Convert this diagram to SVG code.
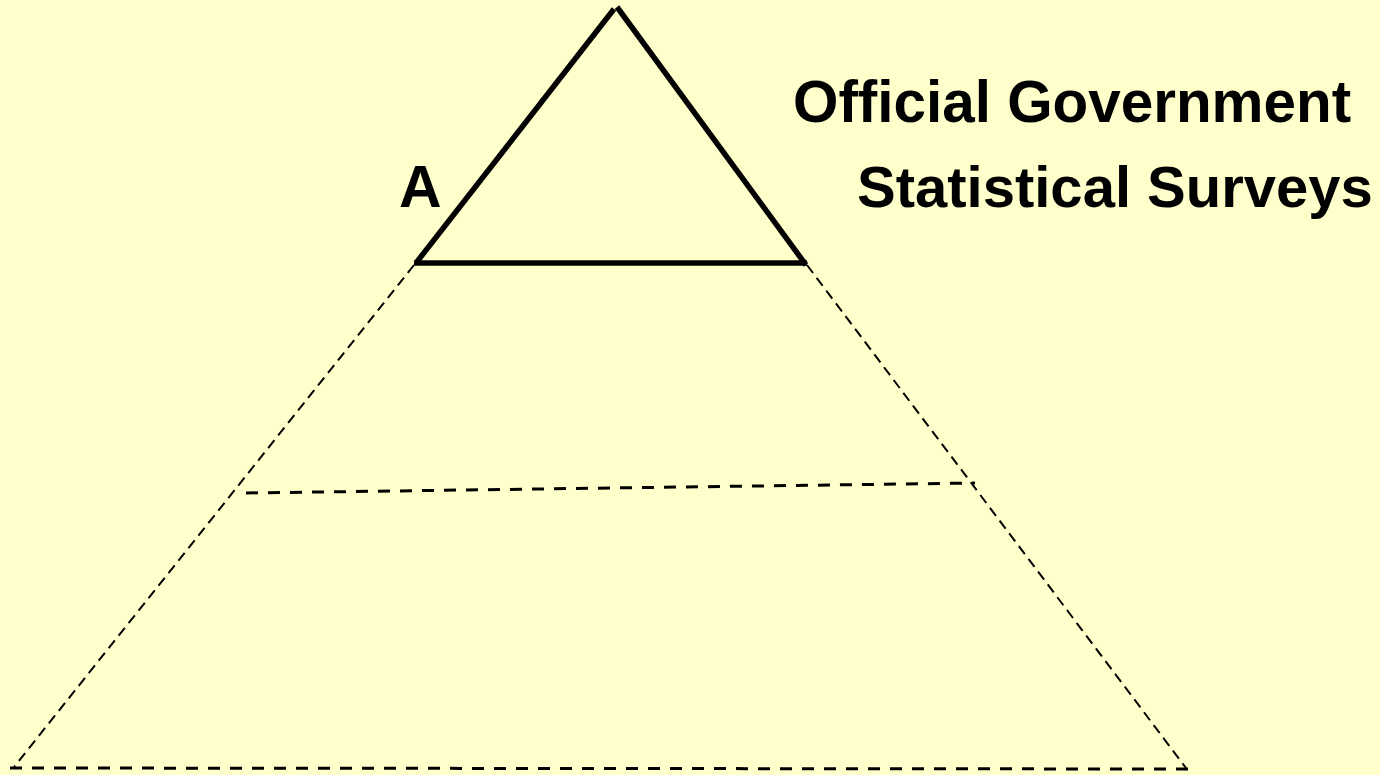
<svg xmlns="http://www.w3.org/2000/svg" width="1380" height="775" viewBox="0 0 1380 775">
<style>
.lbl{font-family:"Liberation Sans",Arial,sans-serif;font-weight:bold;font-size:58px;fill:#000}
.solid{stroke:#000;stroke-width:5.5;fill:none;stroke-linecap:butt}
.dash{stroke:#000;stroke-width:2;fill:none;stroke-dasharray:10 6}
.dashh{stroke:#000;stroke-width:3;fill:none;stroke-dasharray:12 10}
</style>
<rect width="1380" height="775" fill="#FFFFCC"/>
<g id="connectors">
<line class="dash" x1="414" y1="265" x2="14" y2="767"/>
<line class="dash" x1="807" y1="265" x2="1186" y2="768"/>
<line class="dashh" x1="246" y1="493" x2="975" y2="483"/>
<line class="dashh" x1="10" y1="768" x2="1188" y2="769"/>
</g>
<g id="top-triangle">
<line class="solid" x1="416" y1="263" x2="614" y2="9"/>
<line class="solid" x1="617" y1="7" x2="806" y2="265"/>
<line class="solid" x1="414" y1="263" x2="807" y2="263"/>
</g>
<g id="label-a"><text class="lbl" x="399" y="207" style="font-size:59px">A</text></g>
<g id="title">
<text class="lbl" x="793" y="122" style="font-size:58.4px">Official Government</text>
<text class="lbl" x="857" y="207">Statistical Surveys</text>
</g>
</svg>
